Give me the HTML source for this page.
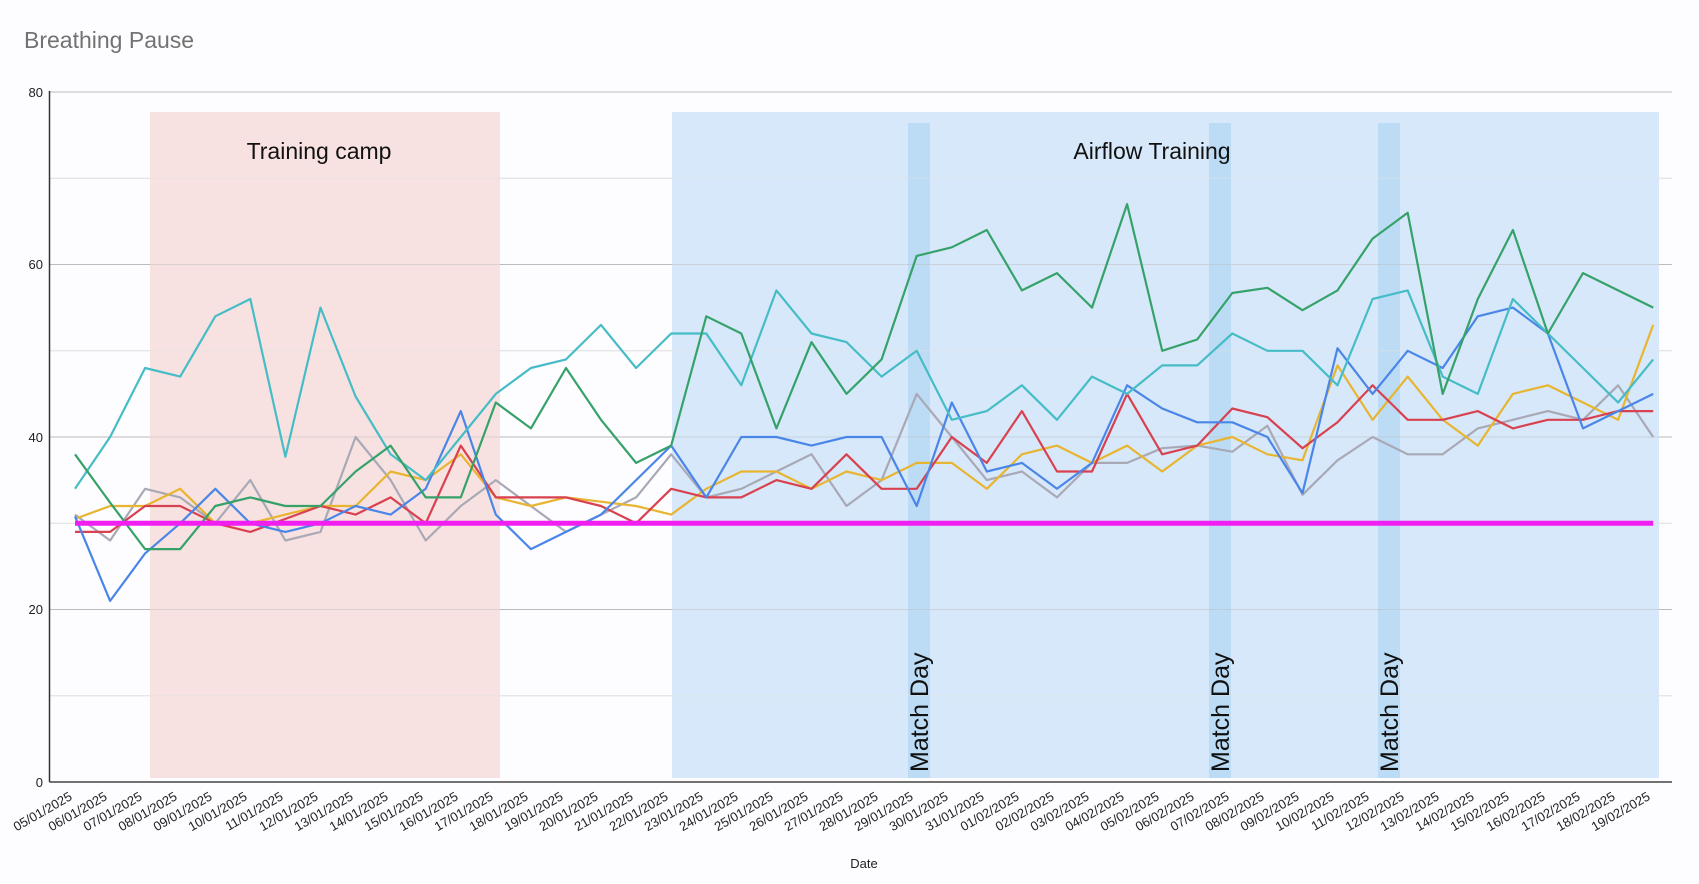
<!DOCTYPE html>
<html><head><meta charset="utf-8"><style>
html,body{margin:0;padding:0;background:#fdfcff;}
svg{display:block;font-family:"Liberation Sans",sans-serif;}
</style></head><body>
<svg id="c" width="1699" height="884" viewBox="0 0 1699 884" xmlns="http://www.w3.org/2000/svg">
<rect width="1699" height="884" fill="#fdfcff"/>
<text x="24" y="48" font-size="23" fill="#727272">Breathing Pause</text>
<g id="grid"></g>
<rect x="150" y="112" width="350" height="666" fill="#f7e2e1"/>
<rect x="672" y="112" width="987" height="666" fill="#d7e8fa"/>
<rect x="908" y="123" width="22" height="655" fill="#bcdcf5"/>
<rect x="1209" y="123" width="22" height="655" fill="#bcdcf5"/>
<rect x="1378" y="123" width="22" height="655" fill="#bcdcf5"/>
<g id="gridover"></g>
<text x="319" y="159" font-size="23" text-anchor="middle" fill="#111">Training camp</text>
<text x="1152" y="159" font-size="23" text-anchor="middle" fill="#111">Airflow Training</text>
<text transform="translate(928,772) rotate(-90)" font-size="25" fill="#111">Match Day</text>
<text transform="translate(1229,772) rotate(-90)" font-size="25" fill="#111">Match Day</text>
<text transform="translate(1398,772) rotate(-90)" font-size="25" fill="#111">Match Day</text>
<g font-size="13" fill="#222" text-anchor="end">
<text x="43" y="97">80</text><text x="43" y="269">60</text><text x="43" y="442">40</text><text x="43" y="614">20</text><text x="43" y="787">0</text>
</g>
<g id="lines"></g>
<line x1="49.5" y1="91" x2="49.5" y2="782" stroke="#333" stroke-width="1.5"/>
<line x1="49.5" y1="782" x2="1672" y2="782" stroke="#444" stroke-width="1.5"/>
<g font-size="13" fill="#222" text-anchor="end">
<text transform="translate(73,799) rotate(-30)">05/01/2025</text>
<text transform="translate(108,799) rotate(-30)">06/01/2025</text>
<text transform="translate(143,799) rotate(-30)">07/01/2025</text>
<text transform="translate(178,799) rotate(-30)">08/01/2025</text>
<text transform="translate(213,799) rotate(-30)">09/01/2025</text>
<text transform="translate(248,799) rotate(-30)">10/01/2025</text>
<text transform="translate(284,799) rotate(-30)">11/01/2025</text>
<text transform="translate(319,799) rotate(-30)">12/01/2025</text>
<text transform="translate(354,799) rotate(-30)">13/01/2025</text>
<text transform="translate(389,799) rotate(-30)">14/01/2025</text>
<text transform="translate(424,799) rotate(-30)">15/01/2025</text>
<text transform="translate(459,799) rotate(-30)">16/01/2025</text>
<text transform="translate(494,799) rotate(-30)">17/01/2025</text>
<text transform="translate(529,799) rotate(-30)">18/01/2025</text>
<text transform="translate(564,799) rotate(-30)">19/01/2025</text>
<text transform="translate(599,799) rotate(-30)">20/01/2025</text>
<text transform="translate(634,799) rotate(-30)">21/01/2025</text>
<text transform="translate(669,799) rotate(-30)">22/01/2025</text>
<text transform="translate(704,799) rotate(-30)">23/01/2025</text>
<text transform="translate(739,799) rotate(-30)">24/01/2025</text>
<text transform="translate(774,799) rotate(-30)">25/01/2025</text>
<text transform="translate(809,799) rotate(-30)">26/01/2025</text>
<text transform="translate(844,799) rotate(-30)">27/01/2025</text>
<text transform="translate(879,799) rotate(-30)">28/01/2025</text>
<text transform="translate(914,799) rotate(-30)">29/01/2025</text>
<text transform="translate(949,799) rotate(-30)">30/01/2025</text>
<text transform="translate(985,799) rotate(-30)">31/01/2025</text>
<text transform="translate(1020,799) rotate(-30)">01/02/2025</text>
<text transform="translate(1055,799) rotate(-30)">02/02/2025</text>
<text transform="translate(1090,799) rotate(-30)">03/02/2025</text>
<text transform="translate(1125,799) rotate(-30)">04/02/2025</text>
<text transform="translate(1160,799) rotate(-30)">05/02/2025</text>
<text transform="translate(1195,799) rotate(-30)">06/02/2025</text>
<text transform="translate(1230,799) rotate(-30)">07/02/2025</text>
<text transform="translate(1265,799) rotate(-30)">08/02/2025</text>
<text transform="translate(1300,799) rotate(-30)">09/02/2025</text>
<text transform="translate(1335,799) rotate(-30)">10/02/2025</text>
<text transform="translate(1370,799) rotate(-30)">11/02/2025</text>
<text transform="translate(1405,799) rotate(-30)">12/02/2025</text>
<text transform="translate(1440,799) rotate(-30)">13/02/2025</text>
<text transform="translate(1475,799) rotate(-30)">14/02/2025</text>
<text transform="translate(1510,799) rotate(-30)">15/02/2025</text>
<text transform="translate(1546,799) rotate(-30)">16/02/2025</text>
<text transform="translate(1581,799) rotate(-30)">17/02/2025</text>
<text transform="translate(1616,799) rotate(-30)">18/02/2025</text>
<text transform="translate(1651,799) rotate(-30)">19/02/2025</text>
</g>
<text x="864" y="868" font-size="13" fill="#222" text-anchor="middle">Date</text>
</svg>
<script>
var NS="http://www.w3.org/2000/svg";
function Y(v){return 782-8.625*v;}
function X(i){return 75+35.07*i;}
var g=document.getElementById('grid'),go=document.getElementById('gridover');
for(var v=10;v<=80;v+=10){
  [g,go].forEach(function(p,k){
  var l=document.createElementNS(NS,'line');
  l.setAttribute('x1',49.5);l.setAttribute('x2',1672);l.setAttribute('y1',Y(v));l.setAttribute('y2',Y(v));
  l.setAttribute('stroke',v%20==0?'#bbb':'#e2e2e2');l.setAttribute('stroke-width',1);
  if(k==1)l.setAttribute('stroke-opacity',0.5);
  p.appendChild(l);});
}
var S=[
["#a9a9b6",[31,28,34,33,30,35,28,29,40,35,28,32,35,32,29,31,33,38,33,34,36,38,32,35,45,40,35,36,33,37,37,38.7,39,38.3,41.3,33.3,37.3,40,38,38,41,42,43,42,46,40]],
["#e8b530",[30.5,32,32,34,30,30,31,32,32,36,35,38,33,32,33,32.5,32,31,34,36,36,34,36,35,37,37,34,38,39,37,39,36,39,40,38,37.3,48.3,42,47,42,39,45,46,44,42,53]],
["#d8414f",[29,29,32,32,30,29,30.5,32,31,33,30,39,33,33,33,32,30,34,33,33,35,34,38,34,34,40,37,43,36,36,45,38,39,43.3,42.3,38.7,41.7,46,42,42,43,41,42,42,43,43]],
["#4a86e8",[30.8,21,26.5,30,34,30,29,30,32,31,34,43,31,27,29,31,35,39,33,40,40,39,40,40,32,44,36,37,34,37,46,43.3,41.7,41.7,40,33.5,50.3,45,50,48,54,55,52,41,43,45]],
["#46bdc6",[34,40,48,47,54,56,37.7,55,44.7,38,35,40,45,48,49,53,48,52,52,46,57,52,51,47,50,42,43,46,42,47,45,48.3,48.3,52,50,50,46,56,57,47,45,56,52,48,44,49]],
["#36a26a",[38,32.4,27,27,32,33,32,32,36,39,33,33,44,41,48,42,37,39,54,52,41,51,45,49,61,62,64,57,59,55,67,50,51.3,56.7,57.3,54.7,57,63,66,45,56,64,52,59,57,55]]
];
var L=document.getElementById('lines');
S.forEach(function(s){
  var p=document.createElementNS(NS,'polyline');
  p.setAttribute('points',s[1].map(function(v,i){return X(i).toFixed(1)+','+Y(v).toFixed(1);}).join(' '));
  p.setAttribute('fill','none');p.setAttribute('stroke',s[0]);p.setAttribute('stroke-width',2.2);p.setAttribute('stroke-linejoin','round');
  L.appendChild(p);
});
var m=document.createElementNS(NS,'line');
m.setAttribute('x1',X(0));m.setAttribute('x2',X(45));m.setAttribute('y1',Y(30));m.setAttribute('y2',Y(30));
m.setAttribute('stroke','#f01ef0');m.setAttribute('stroke-width',5);L.appendChild(m);
</script>
</body></html>
